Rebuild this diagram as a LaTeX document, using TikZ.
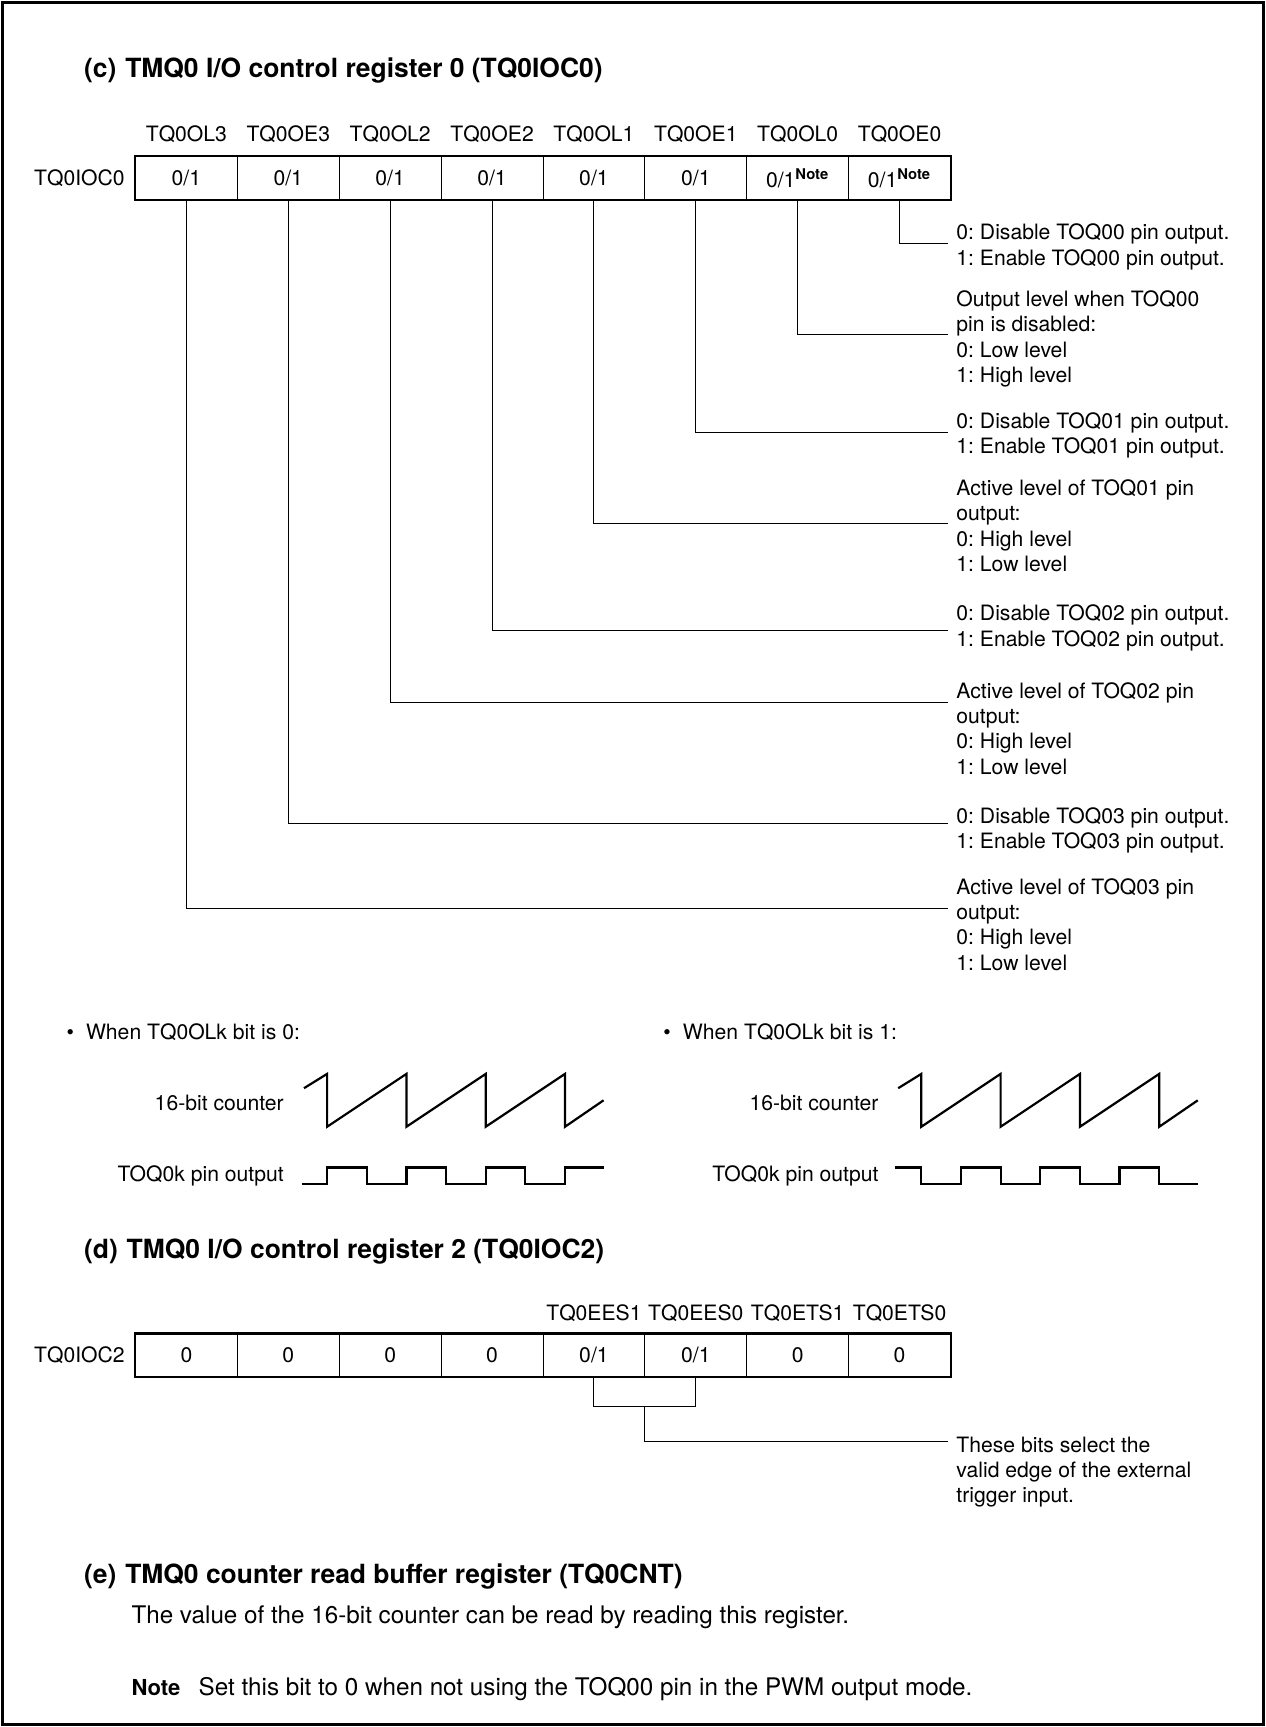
\documentclass[tikz,border=0pt]{standalone}
\usepackage{fontspec}
\setmainfont{TeX Gyre Heros}
\usetikzlibrary{positioning}
\newcommand{\regnote}{\textsuperscript{\bfseries Note}}
\frenchspacing
\begin{document}
\begin{tikzpicture}[x=0.5pt,y=-0.5pt,
        font=\fontsize{9.6}{11.5}\selectfont,
        cell/.style={draw,line width=0.4pt,minimum width=46.25pt,minimum height=19.5pt,inner sep=0pt},
        bitname/.style={anchor=base,inner sep=0pt},
        desc/.style={anchor=north west,align=left,inner sep=0pt},
        txt/.style={anchor=base west,inner sep=0pt},
        body/.style={txt,font=\fontsize{11}{13}\selectfont},
        conn/.style={line width=0.5pt},
        wave/.style={line width=1pt},
        ttl/.style={anchor=base west,inner sep=0pt,font=\fontsize{12}{14}\selectfont\bfseries}]
        \useasboundingbox (0,0) rectangle (1149,1568);
        \draw[line width=1.4pt] (2,2) rectangle (1147,1566);
        % (c) TQ0IOC0
        \node[ttl] (ttlc) at (76,70.5) {(c)\hspace{4pt}TMQ0 I/O control register 0 (TQ0IOC0)};
        \foreach \v [count=\i] in {0/1,0/1,0/1,0/1,0/1,0/1,{0/1\regnote},{0/1\regnote}}
            \node[cell] (a\i) at ({123+92.5*(\i-0.5)},161.5) {\v};
        \draw[line width=1.1pt] (a1.north west) rectangle (a8.south east);
        \foreach \n [count=\i] in {TQ0OL3,TQ0OE3,TQ0OL2,TQ0OE2,TQ0OL1,TQ0OE1,TQ0OL0,TQ0OE0}
            \node[bitname] (na\i) at ([yshift=6.5pt]a\i.north) {\n};
        \node[left=4.5pt of a1,inner sep=0pt] (lbla) {TQ0IOC0};
        \node[desc] (da8) at (868,203) {0: Disable TOQ00 pin output.\\1: Enable TOQ00 pin output.};
        \node[desc] (da7) at (868,263.5) {Output level when TOQ00\\pin is disabled:\\0: Low level\\1: High level};
        \node[desc] (da6) at (868,374) {0: Disable TOQ01 pin output.\\1: Enable TOQ01 pin output.};
        \node[desc] (da5) at (868,435) {Active level of TOQ01 pin\\output:\\0: High level\\1: Low level};
        \node[desc] (da4) at (868,549) {0: Disable TOQ02 pin output.\\1: Enable TOQ02 pin output.};
        \node[desc] (da3) at (868,619) {Active level of TOQ02 pin\\output:\\0: High level\\1: Low level};
        \node[desc] (da2) at (868,733) {0: Disable TOQ03 pin output.\\1: Enable TOQ03 pin output.};
        \node[desc] (da1) at (868,797) {Active level of TOQ03 pin\\output:\\0: High level\\1: Low level};
        \coordinate (ea8) at (861,221);
        \coordinate (ea7) at (861,304);
        \coordinate (ea6) at (861,393);
        \coordinate (ea5) at (861,475);
        \coordinate (ea4) at (861,572.5);
        \coordinate (ea3) at (861,637.5);
        \coordinate (ea2) at (861,748);
        \coordinate (ea1) at (861,825);
        \foreach \i in {1,...,8}
            \draw[conn] (a\i.south) |- (ea\i);
        % output waveforms
        \node[txt] (wh0) at (60,944) {\textbullet\hspace{5.5pt}When TQ0OLk bit is 0:};
        \node[txt] (wh1) at (602,944) {\textbullet\hspace{5.5pt}When TQ0OLk bit is 1:};
        \node[anchor=base east,inner sep=0pt] (cnt0) at (258,1008) {16-bit counter};
        \node[anchor=base east,inner sep=0pt] (pin0) at (258,1073) {TOQ0k pin output};
        \node[anchor=base east,inner sep=0pt] (cnt1) at (798,1008) {16-bit counter};
        \node[anchor=base east,inner sep=0pt] (pin1) at (798,1073) {TOQ0k pin output};
        \draw[wave] (276,988) \foreach \k in {0,1,2,3} {-- ({297+72*\k},975) -- ({297+72*\k},1023)} -- (548,999);
        \draw[wave] (274,1075) \foreach \k in {0,1,2} {-- ({297+72*\k},1075) -- ({297+72*\k},1060)
            -- ({333+72*\k},1060) -- ({333+72*\k},1075)} -- (513,1075) -- (513,1060) -- (548,1060);
        \draw[wave] (815.5,988) \foreach \k in {0,1,2,3} {-- ({836.5+72*\k},975) -- ({836.5+72*\k},1023)} -- (1087.5,999);
        \draw[wave] (813,1060) \foreach \k in {0,1,2} {-- ({836.5+72*\k},1060) -- ({836.5+72*\k},1075)
            -- ({872.5+72*\k},1075) -- ({872.5+72*\k},1060)} -- (1052.5,1060) -- (1052.5,1075) -- (1087.5,1075);
        % (d) TQ0IOC2
        \node[ttl] (ttld) at (76,1142.5) {(d)\hspace{4pt}TMQ0 I/O control register 2 (TQ0IOC2)};
        \foreach \v [count=\i] in {0,0,0,0,0/1,0/1,0,0}
            \node[cell] (b\i) at ({123+92.5*(\i-0.5)},1230.5) {\v};
        \draw[line width=1.1pt] (b1.north west) rectangle (b8.south east);
        \foreach \n [count=\i from 5] in {TQ0EES1,TQ0EES0,TQ0ETS1,TQ0ETS0}
            \node[bitname] (nb\i) at ([yshift=6pt]b\i.north) {\n};
        \node[left=4.5pt of b1,inner sep=0pt] (lblb) {TQ0IOC2};
        \node[desc] (db) at (868,1304) {These bits select the\\valid edge of the external\\trigger input.};
        \coordinate (bj) at (585.5,1277);
        \coordinate (eb) at (861,1309);
        \draw[conn] (b5.south) |- (bj) -| (b6.south);
        \draw[conn] (bj) |- (eb);
        % (e) TQ0CNT
        \node[ttl] (ttle) at (76,1438) {(e)\hspace{4pt}TMQ0 counter read buffer register (TQ0CNT)};
        \node[body] (txte) at (119,1474) {The value of the 16-bit counter can be read by reading this register.};
        \node[body,font=\bfseries] (notel) at (119,1539) {Note};
        \node[body] (notet) at (180,1539) {Set this bit to 0 when not using the TOQ00 pin in the PWM output mode.};
\end{tikzpicture}
\end{document}
